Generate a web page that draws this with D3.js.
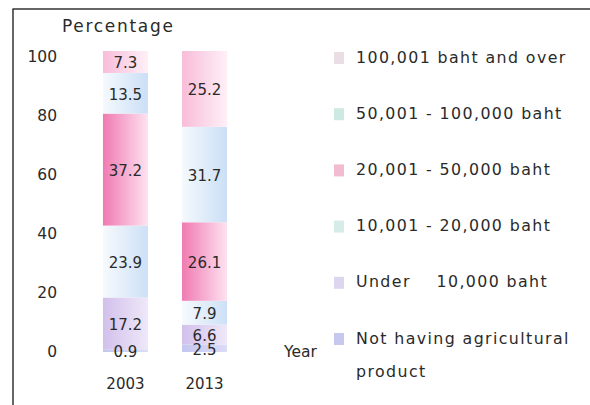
<!DOCTYPE html>
<html><head><meta charset="utf-8">
<script src="https://cdn.jsdelivr.net/npm/d3@7"></script>
<style>
body{margin:0;background:#fff;}
svg{display:block;}
text{font-family:"DejaVu Sans",Verdana,sans-serif;fill:#2a2a2a;}
</style></head>
<body>
<svg id="c" width="590" height="405"></svg>
<script>
const years = ["2003", "2013"];
const categories = ["Not having agricultural product", "Under    10,000 baht", "10,001 - 20,000 baht", "20,001 - 50,000 baht", "50,001 - 100,000 baht", "100,001 baht and over"];
const values2003 = [0.9, 17.2, 23.9, 37.2, 13.5, 7.3];
const values2013 = [2.5, 6.6, 7.9, 26.1, 31.7, 25.2];
const tickValues = [0, 20, 40, 60, 80, 100];

const svg = d3.select("#c");
const defs = svg.append("defs");
const grads = [
  ["g0", "#c4c6f0", "#dcdcf6"],
  ["g1", "#d2c0ec", "#eee8f8"],
  ["g2", "#f6fafd", "#cde0f6"],
  ["g3", "#f07ab2", "#fde2f0"],
  ["g4", "#f4f9fd", "#cbdff6"],
  ["g5", "#f8bcd9", "#fef0f7"]
];
grads.forEach(g => {
  const lg = defs.append("linearGradient").attr("id", g[0]).attr("x1", 0).attr("x2", 1).attr("y1", 0).attr("y2", 0);
  lg.append("stop").attr("offset", "0%").attr("stop-color", g[1]);
  lg.append("stop").attr("offset", "100%").attr("stop-color", g[2]);
});
const legendColors = ["#c8c8ee", "#dcd6ee", "#d6ece8", "#f2bcd0", "#cdeae2", "#eadde4"];

// frame
svg.append("line").attr("x1", 12.5).attr("x2", 590).attr("y1", 9).attr("y2", 9).attr("stroke", "#333").attr("stroke-width", 1.5);
svg.append("line").attr("x1", 13).attr("x2", 13).attr("y1", 9).attr("y2", 405).attr("stroke", "#333").attr("stroke-width", 1.5);

const y = d3.scaleLinear().domain([0, 100]).range([352, 51]);
const yTick = d3.scaleLinear().domain([0, 100]).range([352, 57]);
const x = d3.scaleBand().domain(years).range([80, 250]).paddingInner(0.85).paddingOuter(0.5);

// y axis labels
const ax = svg.append("g").attr("transform", "translate(57,0)")
  .call(d3.axisLeft(yTick).tickValues(tickValues).tickSize(0).tickPadding(0));
ax.select(".domain").remove();
ax.selectAll("text").style("font-size", "15.5px").attr("fill", "#2a2a2a")
  .style("font-family", "DejaVu Sans, sans-serif");

svg.append("text").attr("x", 62).attr("y", 27).attr("dominant-baseline", "middle")
  .style("font-size", "17px").style("letter-spacing", "1.7px").text("Percentage");

const data = years.map((yr, i) => ({ year: yr, vals: i === 0 ? values2003 : values2013 }));
data.forEach(d => {
  let cum = 0;
  d.segs = d.vals.map((v, k) => { const s = { k, v, y0: cum, y1: cum + v }; cum += v; return s; });
});

const bw = 45;
const g = svg.selectAll("g.bar").data(data).enter().append("g")
  .attr("transform", d => `translate(${x(d.year) + x.bandwidth() / 2 - bw / 2},0)`);
g.selectAll("rect").data(d => d.segs).enter().append("rect")
  .attr("x", 0).attr("width", bw)
  .attr("y", s => y(s.y1)).attr("height", s => y(s.y0) - y(s.y1))
  .attr("fill", s => `url(#g${s.k})`);
g.selectAll("text").data(d => d.segs).enter().append("text")
  .attr("x", bw / 2).attr("y", s => (y(s.y0) + y(s.y1)) / 2 + 2)
  .attr("text-anchor", "middle").attr("dominant-baseline", "middle")
  .style("font-size", "15px").text(s => s.v.toFixed(1));

// x labels
svg.selectAll("text.yr").data(years).enter().append("text")
  .attr("x", d => x(d) + x.bandwidth() / 2).attr("y", 384)
  .attr("text-anchor", "middle").attr("dominant-baseline", "middle")
  .style("font-size", "15px").text(d => d);
svg.append("text").attr("x", 284).attr("y", 352).attr("dominant-baseline", "middle")
  .style("font-size", "15.5px").text("Year");

// legend
const ly = d3.scalePoint().domain(d3.range(6)).range([339, 58]);
const leg = svg.selectAll("g.leg").data(categories).enter().append("g")
  .attr("transform", (d, i) => `translate(0,${ly(i)})`);
leg.append("rect").attr("x", 334).attr("y", -6).attr("width", 10).attr("height", 12)
  .attr("fill", (d, i) => legendColors[i]);
leg.each(function (d, i) {
  const t = d3.select(this).append("text").attr("x", 356).attr("y", 0)
    .attr("dominant-baseline", "middle").style("font-size", "15.8px")
    .style("letter-spacing", "1.4px").style("white-space", "pre");
  if (i === 0) {
    t.text("Not having agricultural");
    d3.select(this).append("text").attr("x", 356).attr("y", 33)
      .attr("dominant-baseline", "middle").style("font-size", "15.8px")
      .style("letter-spacing", "1.4px").text("product");
  } else t.text(d);
});
</script>
</body></html>
